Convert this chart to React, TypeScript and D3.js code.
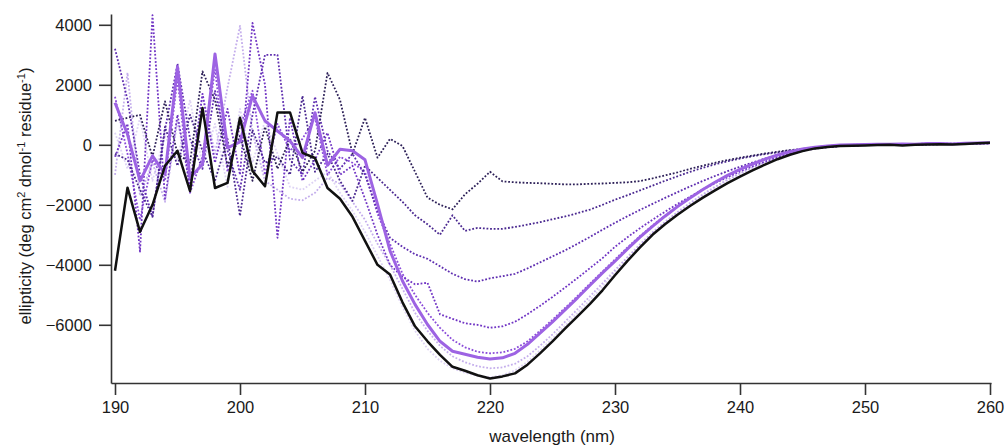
import React, { useEffect, useRef } from "react";
import * as d3 from "d3";

const W = 1005;
const H = 445;

// wavelength grid, 1 nm steps
const wavelengths = d3.range(190, 261);

const yTicks = [-6000, -4000, -2000, 0, 2000, 4000];
const xTicks = [190, 200, 210, 220, 230, 240, 250, 260];

// solid black trace
const blackSeries = [
  -4200, -1430, -2900, -2000, -700, -200, -1540, 1230, -1440, -1270,
  900, -870, -1380, 1080, 1080, -270, -440, -1440, -1800, -2400,
  -3200, -4000, -4320, -5250, -6050, -6550, -7000, -7400, -7530, -7680,
  -7790, -7720, -7620, -7330, -6950, -6550, -6130, -5720, -5300, -4850,
  -4350, -3870, -3420, -3000, -2650, -2330, -2040, -1770, -1520, -1280,
  -1060, -850, -660, -480, -330, -210, -120, -70, -40, -30,
  -20, -10, 0, -20, 0, 10, 20, 10, 30, 50,
  70,
];

// solid purple trace
const purpleSeries = [
  1400, 350, -1200, -370, -980, 2600, -1100, -650, 3030, -100,
  100, 1630, 800, 460, 130, -430, 1070, -680, -150, -200,
  -500, -1980, -3530, -4540, -5320, -5990, -6550, -6880, -6980, -7080,
  -7140, -7100, -6950, -6650, -6280, -5900, -5500, -5100, -4680, -4270,
  -3880, -3470, -3080, -2720, -2380, -2060, -1770, -1500, -1250, -1020,
  -820, -640, -480, -340, -230, -140, -80, -40, -10, 0,
  10, 20, 20, 30, 20, 40, 40, 30, 50, 60,
  70,
];

// dotted traces, darkest to lightest
const dotted1 = [
  800, 900, 1000, -400, 1450, -300, -600, 2450, 1500, -700,
  300, -1200, 600, -800, 200, -900, -200, 2400, 1500, -300,
  900, -430, 200, -40, -900, -1760, -2000, -2150, -1650, -1300,
  -900, -1220, -1250, -1270, -1280, -1300, -1320, -1320, -1300, -1290,
  -1270, -1250, -1210, -1120, -1020, -920, -800, -700, -600, -510,
  -430, -360, -290, -230, -180, -140, -100, -70, -40, -20,
  -10, 0, 10, 0, 10, 20, 20, 20, 30, 40,
  50,
];

const dotted2 = [
  -300, -500, -1500, -2400, 600, -700, 1000, -200, -1200, 200,
  -2370, 500, -600, -400, -1000, 1630, -900, -300, -1200, -1870,
  -700, -1100, -1500, -1900, -2350, -2650, -3000, -2350, -2870, -2770,
  -2800, -2800, -2740, -2660, -2580, -2480, -2390, -2280, -2160, -2000,
  -1830, -1680, -1520, -1360, -1200, -1050, -900, -770, -650, -550,
  -460, -380, -310, -250, -190, -140, -100, -70, -40, -20,
  -10, 0, 0, 10, 0, 10, 20, 30, 30, 40,
  50,
];

const dotted3 = [
  3200, 1500, -1000, -2400, 500, 2700, 200, -800, 1800, -200,
  -1500, 1000, 3000, 3000, -500, -1000, 1600, -200, -800, -300,
  -1000, -2200, -3100, -3400, -3650, -3800, -4050, -4300, -4480, -4560,
  -4450, -4380, -4300, -4120, -3920, -3720, -3520, -3300, -3070, -2830,
  -2600, -2380, -2170, -1970, -1770, -1580, -1390, -1210, -1040, -880,
  -730, -590, -460, -350, -250, -170, -110, -70, -40, -20,
  -10, 0, 10, 10, 20, 10, 20, 30, 40, 40,
  50,
];

const dotted4 = [
  -400, 700, -3560, 4320, -1800, 1000, -1400, 1700, -600, 1200,
  -1000, 4060, 2000, -3100, 900, -1200, -500, 400, -1000, -700,
  -1800, -3000, -4000, -4400, -4650, -4600, -5650, -5800, -5950, -6000,
  -6100, -6050, -5900, -5650, -5370, -5070, -4760, -4440, -4110, -3780,
  -3400, -3080, -2780, -2500, -2230, -1970, -1730, -1500, -1280, -1080,
  -890, -720, -560, -420, -300, -200, -130, -80, -40, -20,
  -10, 0, 10, 20, 10, 20, 30, 20, 40, 50,
  60,
];

const dotted5 = [
  1600, -300, -2500, -500, -1200, 2200, -1600, -400, 2500, -900,
  600, 1800, -1000, 700, -200, 200, 900, -1000, -400, -600,
  -900, -2300, -3300, -4300, -5000, -5600, -6100, -6500, -6750, -6900,
  -6950, -6920, -6800, -6550, -6200, -5830, -5440, -5040, -4630, -4220,
  -3820, -3420, -3040, -2690, -2360, -2050, -1760, -1490, -1250, -1020,
  -820, -640, -480, -340, -230, -140, -80, -40, -10, 0,
  10, 20, 20, 30, 30, 40, 40, 40, 50, 60,
  70,
];

const light1 = [
  -1000, 2400, -1700, -600, -1900, 800, -1200, 1700, -300, 1900,
  3960, 400, -1200, -1500, -1800, -1850, -1600, -1100, -1300, -1900,
  -2500, -3300, -4000, -4800, -5600, -6200, -6700, -7050, -7250, -7380,
  -7450, -7420, -7300, -7050, -6700, -6320, -5900, -5480, -5050, -4620,
  -4180, -3740, -3320, -2920, -2570, -2240, -1940, -1660, -1400, -1160,
  -950, -760, -590, -440, -310, -200, -120, -70, -40, -20,
  -10, 0, 10, 10, 20, 30, 30, 40, 40, 50,
  60,
];

const light2 = [
  400, -800, 900, -1200, 300, -500, 1500, -700, 700, -1400,
  1200, -600, 800, -300, -1400, -1500, -1200, -900, -1600, -2200,
  -2900, -3700, -4500, -5400, -6200, -6800, -7200, -7450, -7600, -7700,
  -7750, -7680, -7520, -7230, -6850, -6450, -6030, -5600, -5170, -4720,
  -4260, -3800, -3360, -2960, -2600, -2270, -1970, -1690, -1430, -1190,
  -980, -790, -610, -450, -320, -210, -130, -80, -40, -20,
  -10, 0, 0, 10, 10, 20, 20, 30, 30, 40,
  50,
];

const series = [
  { values: light2, color: "#ddd2f4", width: 1.8, dotted: true },
  { values: light1, color: "#c4aeec", width: 1.8, dotted: true },
  { values: dotted5, color: "#8a4bd9", width: 1.8, dotted: true },
  { values: dotted4, color: "#7034c4", width: 1.8, dotted: true },
  { values: dotted3, color: "#5e2db0", width: 1.8, dotted: true },
  { values: dotted2, color: "#4a2890", width: 1.8, dotted: true },
  { values: dotted1, color: "#2d2058", width: 1.8, dotted: true },
  { values: purpleSeries, color: "#9d63e3", width: 3, dotted: false },
  { values: blackSeries, color: "#111111", width: 2.5, dotted: false },
];

const FONT = "'Liberation Sans', Arial, sans-serif";

export default function App() {
  const xAxisRef = useRef<SVGGElement>(null);
  const yAxisRef = useRef<SVGGElement>(null);

  const x = d3.scaleLinear().domain([189.68, 260.08]).range([111, 991]);
  const y = d3.scaleLinear().domain([-7940, 4360]).range([383, 14]);

  useEffect(() => {
    const gx = d3.select(xAxisRef.current);
    gx.selectAll("*").remove();
    gx.call(
      d3.axisBottom(x).tickValues(xTicks).tickFormat(d3.format("d")).tickSize(12).tickSizeOuter(0).tickPadding(6)
    );
    const gy = d3.select(yAxisRef.current);
    gy.selectAll("*").remove();
    gy.call(
      d3.axisLeft(y).tickValues(yTicks).tickFormat(d3.format("d")).tickSize(12).tickSizeOuter(0).tickPadding(7)
    );
    [gx, gy].forEach((g) => {
      g.select(".domain").attr("stroke", "#333").attr("stroke-width", 1.6);
      g.selectAll(".tick line").attr("stroke", "#333").attr("stroke-width", 1.6);
      g.selectAll(".tick text")
        .attr("fill", "#1a1a1a")
        .style("font-family", FONT)
        .style("font-size", "16.5px");
    });
  }, []);

  const line = d3
    .line<number>()
    .x((_, i) => x(wavelengths[i]))
    .y((d) => y(d));

  return (
    <svg
      width={W}
      height={H}
      style={{ position: "absolute", left: 0, top: 0, background: "#fff" }}
    >
      <g>
        {series.map((s, i) => (
          <path
            key={i}
            d={line(s.values) || ""}
            fill="none"
            stroke={s.color}
            strokeWidth={s.width}
            strokeDasharray={s.dotted ? "1.8,1.8" : undefined}
            strokeLinejoin="round"
          />
        ))}
      </g>
      <g ref={xAxisRef} transform={`translate(0,${y(-7940)})`} />
      <g ref={yAxisRef} transform={`translate(${x(189.68)},0)`} />
      <text
        x={552}
        y={442}
        textAnchor="middle"
        fill="#1a1a1a"
        style={{ fontFamily: FONT, fontSize: "17px" }}
      >
        wavelength (nm)
      </text>
      <text
        transform="translate(31,196) rotate(-90)"
        textAnchor="middle"
        fill="#1a1a1a"
        style={{ fontFamily: FONT, fontSize: "16.5px" }}
      >
        ellipticity (deg cm
        <tspan baselineShift="super" fontSize="11px">2</tspan> dmol
        <tspan baselineShift="super" fontSize="11px">-1</tspan> residue
        <tspan baselineShift="super" fontSize="11px">-1</tspan>)
      </text>
    </svg>
  );
}
